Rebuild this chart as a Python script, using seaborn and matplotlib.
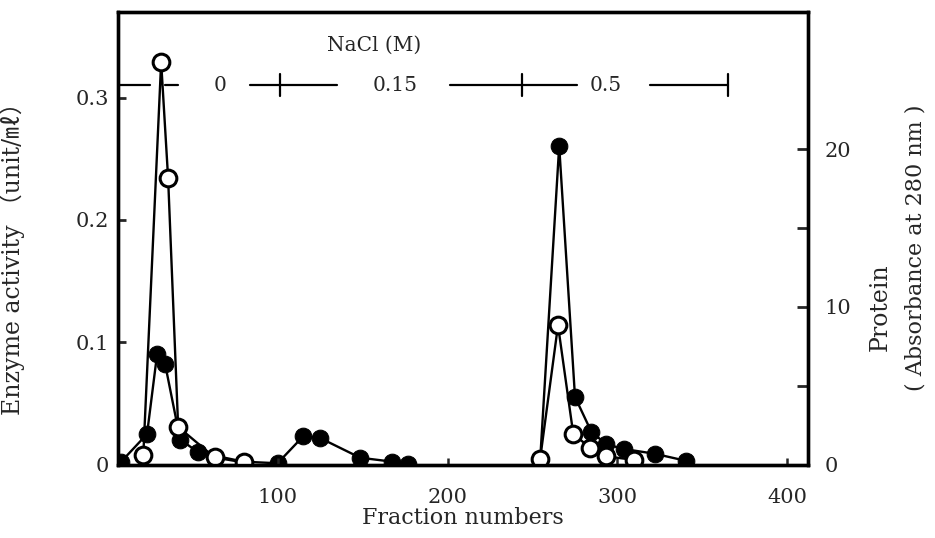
import numpy as np
import pandas as pd
import matplotlib
matplotlib.use('Agg')
import matplotlib.pyplot as plt
import seaborn as sns

# enzyme activity (open circles, left axis), two elution groups
enz_frac = [21, 31.5, 35.6, 41.5, 63, 80,
            254.5, 265, 274, 284, 293, 310]
enz_act = [0.008, 0.329, 0.234, 0.031, 0.006, 0.002,
           0.005, 0.114, 0.025, 0.014, 0.007, 0.004]
enz_seg = [0] * 6 + [1] * 6

# protein A280 (filled circles, right axis)
prot_frac = [8, 23.2, 29.1, 33.8, 42.7, 53.3, 80, 100, 115, 125, 148.6, 167.5, 177,
             254.5, 265.7, 275, 284.6, 293.4, 304, 322, 340.5]
prot_abs = [0.2, 1.95, 7.0, 6.4, 1.6, 0.8, 0.2, 0.1, 1.8, 1.7, 0.45, 0.2, 0.05,
            0.3, 20.2, 4.3, 2.1, 1.3, 1.0, 0.7, 0.25]
prot_seg = [0] * 13 + [1] * 8

# NaCl step gradient
nacl_labels = ['0', '0.15', '0.5']
nacl_steps = [101.5, 244, 365]

x_ticks = [100, 200, 300, 400]
left_ticks = [0, 0.1, 0.2, 0.3]
right_ticks = [0, 5, 10, 15, 20]
right_ticklabels = ['0', '', '10', '', '20']

enz_df = pd.DataFrame({'fraction': enz_frac, 'activity': enz_act, 'seg': enz_seg})
prot_df = pd.DataFrame({'fraction': prot_frac, 'protein': prot_abs, 'seg': prot_seg})

sns.set_style('ticks')
plt.rcParams['font.family'] = ['DejaVu Serif', 'Noto Sans CJK JP']

fig = plt.figure(figsize=(9.35, 5.38), dpi=100)
ax = fig.add_axes([0.126, 0.136, 0.738, 0.842])
ax2 = ax.twinx()

sns.lineplot(data=prot_df, x='fraction', y='protein', units='seg', estimator=None,
             sort=False, color='black', linewidth=1.7, marker='o', markersize=12,
             markerfacecolor='black', markeredgecolor='black', ax=ax2)
sns.lineplot(data=enz_df, x='fraction', y='activity', units='seg', estimator=None,
             sort=False, color='black', linewidth=1.7, marker='o', markersize=12,
             markerfacecolor='white', markeredgecolor='black', markeredgewidth=2.2,
             ax=ax)
ax.set_zorder(ax2.get_zorder() + 1)
ax.patch.set_visible(False)

ax.set_xlim(6, 412)
ax.set_ylim(0, 0.37)
ax2.set_ylim(0, 28.7)

# NaCl bar
bar_y = 0.31
for x0, x1 in [(6, 25), (34, 41.5), (84, 135), (201.5, 276), (319, 365)]:
    ax.plot([x0, x1], [bar_y, bar_y], color='black', lw=1.6)
for xs in nacl_steps:
    ax.plot([xs, xs], [bar_y - 0.009, bar_y + 0.009], color='black', lw=1.6)
for lab, xl in zip(nacl_labels, [66, 169, 293]):
    ax.text(xl, bar_y, lab, ha='center', va='center', fontsize=14.5)
ax.text(157, 0.343, 'NaCl (M)', ha='center', va='center', fontsize=14.5)

ax.set_xticks(x_ticks)
ax.set_xticklabels([str(t) for t in x_ticks])
ax.set_yticks(left_ticks)
ax.set_yticklabels(['0', '0.1', '0.2', '0.3'])
ax2.set_yticks(right_ticks)
ax2.set_yticklabels(right_ticklabels)

ax.tick_params(axis='x', direction='in', length=5, width=1.8, pad=17, labelsize=15)
ax.tick_params(axis='y', direction='in', length=6, width=2, pad=6, labelsize=15)
ax2.tick_params(axis='y', direction='in', length=8, width=2, pad=12, labelsize=15)

for a in (ax, ax2):
    for s in a.spines.values():
        s.set_linewidth(2.4)
        s.set_color('black')

ax.set_xlabel('Fraction numbers', fontsize=16, labelpad=0)
ax.set_ylabel('Enzyme activity （unit/㎖）', fontsize=17)
ax.yaxis.set_label_coords(-0.135, 0.468)
ax2.set_ylabel('')
fig.text(0.941, 0.429, 'Protein', rotation=90, ha='center', va='center', fontsize=17)
fig.text(0.979, 0.539, '( Absorbance at 280 nm )', rotation=90, ha='center',
         va='center', fontsize=16)

fig.savefig('out.png', dpi=100)
